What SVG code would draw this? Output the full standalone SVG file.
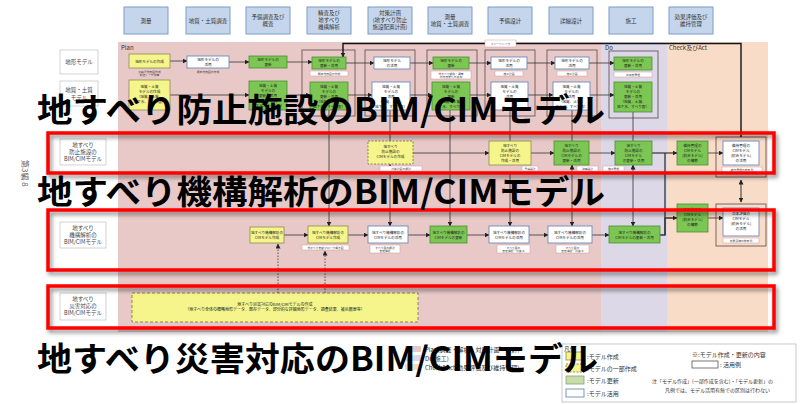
<svg xmlns="http://www.w3.org/2000/svg" width="805" height="404" viewBox="0 0 805 404">
<defs>
<marker id="ah" markerWidth="5" markerHeight="5" refX="4.5" refY="2.5" orient="auto" markerUnits="userSpaceOnUse"><path d="M0,0 L5,2.5 L0,5 z" fill="#222"/></marker>
<marker id="ahs" markerWidth="5" markerHeight="5" refX="0.5" refY="2.5" orient="auto" markerUnits="userSpaceOnUse"><path d="M5,0 L0,2.5 L5,5 z" fill="#222"/></marker>
<filter id="sh" x="-5%" y="-20%" width="110%" height="150%"><feDropShadow dx="2" dy="3" stdDeviation="2" flood-color="#000" flood-opacity="0.45"/></filter>
</defs>
<style>
text{font-family:"Noto Sans CJK JP","Noto Sans",sans-serif;}
.hdr rect{fill:#c5d6ec;stroke:#7d9cc6;stroke-width:1}
.hdr text{font-size:5.5px;fill:#333;text-anchor:middle}
.lab rect{fill:#fff;stroke:#c8c8c8;stroke-width:0.8}
.lab text{font-size:5.5px;fill:#444;text-anchor:middle}
.y{fill:#f6f58c;stroke:#8c8c52;stroke-width:0.8}
.yd{fill:#f6f58c;stroke:#6e6e48;stroke-width:0.8;stroke-dasharray:2 1.5}
.g{fill:#7cc653;stroke:#4e8c38;stroke-width:0.8}
.w{fill:#fff;stroke:#6a8cba;stroke-width:0.9}
.n text{font-size:3.6px;fill:#222;text-anchor:middle}
.sub rect{fill:#fff;stroke:#d49a9a;stroke-width:0.5}
.sub text{font-size:2.8px;fill:#444;text-anchor:middle}
.fr{fill:none;stroke:#6b5858;stroke-width:0.9}
.c line,.c path{stroke:#333;stroke-width:0.8;fill:none}
.big{font-size:33px;font-weight:bold;fill:#000}
.red{fill:none;stroke:#ff0000;stroke-width:3.5}
.lg text{font-size:6px;fill:#333}
</style>

<!-- regions -->
<rect x="118" y="42" width="483" height="290" fill="#e8c9c8"/>
<rect x="601" y="42" width="66" height="290" fill="#dcd8e8"/>
<rect x="667" y="42" width="101" height="290" fill="#f9dcc8"/>
<text x="121" y="49.5" font-size="6" fill="#333">Plan</text>
<text x="605" y="49.5" font-size="6" fill="#333">Do</text>
<text x="669" y="49.5" font-size="6" fill="#333">Check及びAct</text>

<text transform="translate(22,160) rotate(90)" font-size="8" fill="#666">第3編 8</text>

<!-- header -->
<g class="hdr" id="h1"><rect x="124" y="7" width="44" height="27"/><text x="146" y="22.5">測量</text></g>
<g class="hdr" id="h2"><rect x="186" y="7" width="44" height="27"/><text x="208" y="22.5">地質・土質調査</text></g>
<g class="hdr" id="h3"><rect x="246" y="7" width="44" height="27"/><text x="268" y="19">予備調査及び</text><text x="268" y="26">概査</text></g>
<g class="hdr" id="h4"><rect x="307" y="7" width="44" height="27"/><text x="329" y="15">精査及び</text><text x="329" y="22">地すべり</text><text x="329" y="29">機構解析</text></g>
<g class="hdr" id="h5"><rect x="368" y="7" width="44" height="27"/><text x="390" y="15">対策計画</text><text x="390" y="22">(地すべり防止</text><text x="390" y="29">施設配置計画)</text></g>
<g class="hdr" id="h6"><rect x="428" y="7" width="44" height="27"/><text x="450" y="19">測量</text><text x="450" y="26">地質・土質調査</text></g>
<g class="hdr" id="h7"><rect x="488" y="7" width="44" height="27"/><text x="510" y="22.5">予備設計</text></g>
<g class="hdr" id="h8"><rect x="549" y="7" width="44" height="27"/><text x="571" y="22.5">詳細設計</text></g>
<g class="hdr" id="h9"><rect x="609" y="7" width="44" height="27"/><text x="631" y="22.5">施工</text></g>
<g class="hdr" id="h10"><rect x="669" y="7" width="44" height="27"/><text x="691" y="19">効果評価及び</text><text x="691" y="26">維持管理</text></g>

<!-- column frames -->
<rect class="fr" x="302" y="50" width="53" height="66"/>
<rect class="fr" x="365" y="50" width="50" height="66"/>
<rect class="fr" x="427" y="50" width="50" height="66"/>
<rect class="fr" x="485" y="50" width="50" height="66"/>
<rect class="fr" x="547" y="50" width="50" height="66"/>
<rect class="fr" x="609" y="51" width="49" height="67"/>
<rect class="fr" x="716" y="137" width="50" height="40"/>
<rect class="fr" x="716" y="204" width="50" height="42"/>

<!-- connectors -->
<g class="c" id="connectors">
<line x1="170" y1="61" x2="187" y2="61" marker-end="url(#ah)"/>
<line x1="229" y1="62" x2="249" y2="62" marker-end="url(#ah)"/>
<line x1="287" y1="62" x2="312" y2="62" marker-end="url(#ah)"/>
<line x1="346" y1="63" x2="374" y2="63" marker-end="url(#ah)"/>
<line x1="410" y1="63" x2="433" y2="63" marker-end="url(#ah)"/>
<line x1="469" y1="63" x2="491" y2="63" marker-end="url(#ah)"/>
<line x1="527" y1="63" x2="555" y2="63" marker-end="url(#ah)"/>
<line x1="589" y1="63" x2="614" y2="63" marker-end="url(#ah)"/>
<line x1="170" y1="95" x2="249" y2="95" marker-end="url(#ah)"/>
<line x1="287" y1="95" x2="310" y2="95" marker-end="url(#ah)"/>
<line x1="348" y1="95" x2="372" y2="95" marker-end="url(#ah)"/>
<line x1="410" y1="95" x2="432" y2="95" marker-end="url(#ah)"/>
<line x1="470" y1="95" x2="491" y2="95" marker-end="url(#ah)"/>
<line x1="528" y1="95" x2="553" y2="95" marker-end="url(#ah)"/>
<line x1="590" y1="95" x2="614" y2="95" marker-end="url(#ah)"/>
<!-- verticals row2 to row4 -->
<line x1="329" y1="110" x2="329" y2="226" marker-end="url(#ah)"/>
<line x1="390" y1="110" x2="390" y2="141"/>
<line x1="390" y1="172" x2="390" y2="226" marker-end="url(#ah)"/>
<line x1="450" y1="110" x2="450" y2="226" marker-end="url(#ah)"/>
<line x1="510" y1="110" x2="510" y2="141"/>
<line x1="510" y1="172" x2="510" y2="226" marker-end="url(#ah)"/>
<line x1="572" y1="110" x2="572" y2="141"/>
<line x1="572" y1="172" x2="572" y2="226" marker-end="url(#ah)"/>
<line x1="633" y1="112" x2="633" y2="141"/>
<line x1="633" y1="172" x2="633" y2="226" marker-end="url(#ah)"/>
<line x1="390" y1="171" x2="390" y2="164.5" marker-end="url(#ah)"/>
<line x1="572" y1="171" x2="572" y2="165" marker-end="url(#ah)"/>
<line x1="633" y1="171" x2="633" y2="165" marker-end="url(#ah)"/>
<!-- row3 -->
<line x1="413" y1="153" x2="489" y2="153" marker-end="url(#ah)"/>
<line x1="531" y1="153" x2="554" y2="153" marker-end="url(#ah)"/>
<line x1="589" y1="153" x2="615" y2="153" marker-end="url(#ah)"/>
<line x1="652" y1="153" x2="677" y2="153" marker-end="url(#ah)" style="stroke-width:1.2"/>
<line x1="708" y1="153" x2="723" y2="153" marker-end="url(#ah)"/>
<!-- row4 -->
<line x1="284" y1="235" x2="308" y2="235" marker-end="url(#ah)"/>
<line x1="348" y1="235" x2="368" y2="235" marker-end="url(#ah)"/>
<line x1="408" y1="235" x2="430" y2="235" marker-end="url(#ah)"/>
<line x1="467" y1="235" x2="489" y2="235" marker-end="url(#ah)"/>
<line x1="529" y1="235" x2="548" y2="235" marker-end="url(#ah)"/>
<line x1="592" y1="235" x2="609" y2="235" marker-end="url(#ah)"/>
<path d="M660,235 H665 V218 H677" marker-end="url(#ah)" style="stroke-width:1.3"/>
<line x1="665" y1="153" x2="665" y2="235" style="stroke-width:1.3"/>
<line x1="708" y1="218" x2="723" y2="218" marker-end="url(#ah)"/>
<line x1="741" y1="180" x2="741" y2="202" marker-start="url(#ahs)" marker-end="url(#ah)" style="stroke-width:1"/>
<!-- dotted to row5 -->
<line x1="278" y1="293" x2="278" y2="244" marker-end="url(#ah)" style="stroke-dasharray:1.5 1.5"/>
<line x1="325" y1="293" x2="325" y2="251" marker-end="url(#ah)" style="stroke-dasharray:1.5 1.5"/>
<!-- feedback -->
<path d="M741,137 V43.5 H343 V57" marker-end="url(#ah)" style="stroke-width:1.4;stroke:#111"/>
</g>
<g class="sub"><rect x="485" y="40" width="31" height="7"/><text x="500.5" y="44.8">フィードバック</text></g>

<!-- row1 nodes -->
<g class="n" id="n1a"><rect class="y" x="129" y="54" width="41" height="14"/><text x="149.5" y="62.5">地形モデルの作成</text></g>
<g class="n" id="n1b"><rect class="w" x="187" y="56" width="42" height="12"/><text x="208" y="61">地形モデルの</text><text x="208" y="65.5">活用</text></g>
<g class="n" id="n1c"><rect class="g" x="249" y="56" width="38" height="12"/><text x="268" y="61">地形モデルの</text><text x="268" y="65.5">更新</text></g>
<g class="n" id="n1d"><rect class="g" x="312" y="57" width="34" height="12"/><text x="329" y="62">地形モデルの</text><text x="329" y="66.5">更新・活用</text></g>
<g class="n" id="n1e"><rect class="w" x="374" y="57" width="36" height="12"/><text x="392" y="62">地形モデル</text><text x="392" y="66.5">の活用</text></g>
<g class="n" id="n1f"><rect class="g" x="433" y="57" width="36" height="12"/><text x="451" y="62">地形モデルの</text><text x="451" y="66.5">更新</text></g>
<g class="n" id="n1g"><rect class="w" x="491" y="57" width="36" height="12"/><text x="509" y="62">地形モデルの</text><text x="509" y="66.5">活用</text></g>
<g class="n" id="n1h"><rect class="w" x="555" y="57" width="34" height="12"/><text x="572" y="62">地形モデルの</text><text x="572" y="66.5">活用</text></g>
<g class="n" id="n1i"><rect class="g" x="614" y="57" width="38" height="13"/><text x="633" y="62">地形モデルの</text><text x="633" y="67">更新・活用</text></g>
<g class="sub">
<text x="149.5" y="72.5">大縮尺地形図作成</text><text x="149.5" y="76">航空レーザ測量</text>
<text x="208" y="72.5">既存地形図の作成</text>
<rect x="310" y="71" width="38" height="5"/><text x="329" y="74.5">既存地形図の作成</text>
<rect x="431" y="71" width="40" height="8"/><text x="451" y="74.5">地すべり観測・調査</text><text x="451" y="77.8">の地形変化の追加</text>
<rect x="495" y="71" width="28" height="5"/><text x="509" y="74.5">施工計画</text>
<rect x="557" y="71" width="30" height="5"/><text x="572" y="74.5">施工計画</text>
<rect x="614" y="72" width="38" height="5"/><text x="633" y="75.5">出来形管理</text>
</g>

<!-- row2 nodes -->
<g class="n" id="n2a"><rect class="y" x="129" y="80" width="41" height="30"/><text x="149.5" y="88">地質・土質</text><text x="149.5" y="93">モデルの作成</text><text x="149.5" y="98">（地質、土質、</text><text x="149.5" y="103">地下水、すべり面）</text></g>
<g class="n" id="n2b"><rect class="g" x="249" y="81" width="38" height="29"/><text x="268" y="87">地質・土質</text><text x="268" y="92">モデルの</text><text x="268" y="97">更新・活用</text><text x="268" y="102">（地質、土質、</text><text x="268" y="107">地下水、すべり面）</text></g>
<g class="n" id="n2c"><rect class="g" x="310" y="82" width="38" height="28"/><text x="329" y="88">地質・土質</text><text x="329" y="93">モデルの</text><text x="329" y="98">更新・活用</text><text x="329" y="103">（地質、土質、</text><text x="329" y="108">地下水、すべり面）</text></g>
<g class="n" id="n2d"><rect class="w" x="372" y="82" width="38" height="28"/><text x="391" y="88">地質・土質</text><text x="391" y="93">モデルの</text><text x="391" y="98">活用</text><text x="391" y="103">（地質、土質、</text><text x="391" y="108">地下水、すべり面）</text></g>
<g class="n" id="n2e"><rect class="g" x="432" y="82" width="38" height="28"/><text x="451" y="88">地質・土質</text><text x="451" y="93">モデルの</text><text x="451" y="98">更新</text><text x="451" y="103">（地質、土質、</text><text x="451" y="108">地下水、すべり面）</text></g>
<g class="n" id="n2f"><rect class="w" x="491" y="82" width="37" height="28"/><text x="509.5" y="88">地質・土質</text><text x="509.5" y="93">モデルの</text><text x="509.5" y="98">活用</text></g>
<g class="n" id="n2g"><rect class="w" x="553" y="82" width="37" height="28"/><text x="571.5" y="88">地質・土質</text><text x="571.5" y="93">モデルの</text><text x="571.5" y="98">活用</text><text x="571.5" y="103">（地質、土質、</text><text x="571.5" y="108">地下水、すべり面）</text></g>
<g class="n" id="n2h"><rect class="g" x="614" y="82" width="38" height="30"/><text x="633" y="88">地質・土質</text><text x="633" y="93">モデルの</text><text x="633" y="98">更新・活用</text><text x="633" y="103">（地質、土質、</text><text x="633" y="108">地下水、すべり面）</text></g>

<!-- row3 nodes -->
<g class="n" id="n3a"><rect class="yd" x="368" y="141" width="45" height="23"/><text x="390.5" y="148">地すべり</text><text x="390.5" y="153">防止施設の</text><text x="390.5" y="158">CIMモデルの作成</text></g>
<g class="n" id="n3b"><rect class="y" x="489" y="141" width="42" height="24"/><text x="510" y="147">地すべり</text><text x="510" y="152">防止施設の</text><text x="510" y="157">CIMモデルの</text><text x="510" y="162">作成・活用</text></g>
<g class="n" id="n3c"><rect class="g" x="554" y="141" width="35" height="24"/><text x="571.5" y="147">地すべり</text><text x="571.5" y="152">防止施設の</text><text x="571.5" y="157">CIMモデルの</text><text x="571.5" y="162">更新・活用</text></g>
<g class="n" id="n3d"><rect class="g" x="615" y="141" width="37" height="24"/><text x="633.5" y="147">地すべり</text><text x="633.5" y="152">防止施設の</text><text x="633.5" y="157">CIMモデル</text><text x="633.5" y="162">の更新・活用</text></g>
<g class="n" id="n3e"><rect class="g" x="677" y="141" width="31" height="24"/><text x="692.5" y="147">維持管理の</text><text x="692.5" y="152">CIMモデル</text><text x="692.5" y="157">(統合モデル)</text><text x="692.5" y="162">の構築</text></g>
<g class="n" id="n3f"><rect class="w" x="723" y="141" width="36" height="24"/><text x="741" y="147">維持管理の</text><text x="741" y="152">CIMモデル</text><text x="741" y="157">(統合モデル)</text><text x="741" y="162">の活用</text></g>
<g class="sub">
<rect x="380" y="166" width="42" height="5"/><text x="401" y="169.5">対策計画の検討</text>
<rect x="522" y="166" width="16" height="5"/><text x="530" y="169.5">予備設計</text>
<rect x="577" y="166" width="21" height="5"/><text x="587.5" y="169.5">詳細設計</text>
<rect x="603" y="166" width="21" height="5"/><text x="613.5" y="169.5">施工管理</text>
<rect x="722" y="167" width="40" height="8"/><text x="742" y="170.5">維持管理の参考例</text><text x="742" y="173.8">(点検・観測データの蓄積)</text>
</g>

<!-- row4 nodes -->
<g class="n" id="n4a"><rect class="y" x="250" y="227" width="34" height="16"/><text x="267" y="234">地すべり機構解析の</text><text x="267" y="239">CIMモデル作成</text></g>
<g class="n" id="n4b"><rect class="y" x="308" y="226" width="40" height="17"/><text x="328" y="233.5">地すべり機構解析の</text><text x="328" y="238.5">CIMモデル作成</text></g>
<g class="n" id="n4c"><rect class="w" x="368" y="226" width="40" height="17"/><text x="388" y="233.5">地すべり機構解析の</text><text x="388" y="238.5">CIMモデルの活用</text></g>
<g class="n" id="n4d"><rect class="g" x="430" y="226" width="37" height="17"/><text x="448.5" y="233.5">地すべり機構解析の</text><text x="448.5" y="238.5">CIMモデルの更新</text></g>
<g class="n" id="n4e"><rect class="w" x="489" y="226" width="40" height="17"/><text x="509" y="233.5">地すべり機構解析の</text><text x="509" y="238.5">CIMモデルの活用</text></g>
<g class="n" id="n4f"><rect class="w" x="548" y="226" width="44" height="17"/><text x="570" y="233.5">地すべり機構解析の</text><text x="570" y="238.5">CIMモデルの活用</text></g>
<g class="n" id="n4g"><rect class="g" x="609" y="226" width="51" height="17"/><text x="634.5" y="233.5">地すべり機構解析の</text><text x="634.5" y="238.5">CIMモデルの更新・活用</text></g>
<g class="n" id="n4h"><rect class="g" x="677" y="204" width="31" height="28"/><text x="692.5" y="211">効果評価の</text><text x="692.5" y="216">CIMモデル</text><text x="692.5" y="221">(統合モデル)</text><text x="692.5" y="226">の構築</text></g>
<g class="n" id="n4i"><rect class="w" x="723" y="208" width="36" height="28"/><text x="741" y="215">効果評価の</text><text x="741" y="220">CIMモデル</text><text x="741" y="225">(統合モデル)</text><text x="741" y="230">の活用</text></g>
<g class="sub">
<rect x="302" y="245" width="47" height="5"/><text x="325.5" y="248.5">地すべり変動ブロック概念図</text>
<rect x="370" y="245" width="30" height="8"/><text x="385" y="248.5">すべり面の検討</text><text x="385" y="251.8">安定解析</text>
<rect x="497" y="245" width="33" height="8"/><text x="513.5" y="248.5">すべり面の</text><text x="513.5" y="251.8">安定解析・対策工</text>
<rect x="556" y="245" width="33" height="8"/><text x="572.5" y="248.5">すべり面の</text><text x="572.5" y="251.8">安定解析・対策工</text>
<rect x="723" y="238" width="36" height="5"/><text x="741" y="241.5">効果評価の参考例</text>
</g>

<!-- row5 -->
<g class="n" id="n5"><rect class="yd" x="132" y="293" width="286" height="29" style="stroke-dasharray:3 2"/>
<text x="275" y="305.5" style="font-size:4px">地すべり災害対応のBIM/CIMモデルの作成</text>
<text x="275" y="311" style="font-size:4px">（地すべり全体の概略地形データ、既存データ、部分的な詳細地形データ、調査結果、被災履歴等）</text></g>

<!-- row labels -->
<g class="lab" id="l1"><rect x="60" y="50" width="38" height="24"/><text x="79" y="64">地形モデル</text></g>
<g class="lab" id="l2"><rect x="60" y="81" width="38" height="25"/><text x="79" y="92">地質・土質</text><text x="79" y="99.5">モデル</text></g>
<g class="lab" id="l3"><rect x="60" y="139" width="46" height="26"/><text x="83" y="147">地すべり</text><text x="83" y="154">防止施設の</text><text x="83" y="161">BIM/CIMモデル</text></g>
<g class="lab" id="l4"><rect x="60" y="222" width="46" height="26"/><text x="83" y="230">地すべり</text><text x="83" y="237">機構解析の</text><text x="83" y="244">BIM/CIMモデル</text></g>
<g class="lab" id="l5"><rect x="60" y="293" width="46" height="27"/><text x="83" y="301">地すべり</text><text x="83" y="308">災害対応の</text><text x="83" y="315">BIM/CIMモデル</text></g>

<!-- red highlight boxes -->
<g filter="url(#sh)">
<rect class="red" x="48" y="133" width="726" height="40"/>
<rect class="red" x="48" y="210" width="726" height="60"/>
<rect class="red" x="48" y="286" width="726" height="42"/>
</g>

<!-- legend -->
<g class="lg" id="legend">
<rect x="405" y="346" width="16" height="6" fill="#e8c9c8"/>
<rect x="405" y="355" width="16" height="6" fill="#dcd8e8"/>
<rect x="405" y="364" width="16" height="6" fill="#f9dcc8"/>
<text x="425" y="351.5">Plan(調査・解析・対策計画・設計)</text>
<text x="425" y="360.5">Do(施工)</text>
<text x="425" y="369.5">Check&amp;Act(効果評価及び維持管理)</text>
<rect x="562" y="344" width="234" height="58" fill="#fff" stroke="#bbb" stroke-width="0.8"/>
<text x="564" y="351">凡例</text>
<rect class="y" x="566" y="352" width="18" height="8"/>
<rect class="yd" x="566" y="364" width="18" height="8"/>
<rect x="566" y="376" width="18" height="8" fill="#c8dcaa" stroke="#8aa070" stroke-width="0.8"/>
<rect class="w" x="566" y="389" width="18" height="8"/>
<text x="587" y="359">:モデル作成</text>
<text x="587" y="371">:モデルの一部作成</text>
<text x="587" y="383">:モデル更新</text>
<text x="587" y="396">:モデル活用</text>
<text x="692" y="357">※:モデル作成・更新の内容</text>
<rect x="692" y="361" width="26" height="7" fill="#fff" stroke="#555" stroke-width="0.8"/>
<text x="720" y="367">: 活用例</text>
<text x="652" y="383" style="font-size:5px">注「モデル作成」(一部作成を含む)・「モデル更新」の</text>
<text x="665" y="392" style="font-size:5px">凡例では、モデル活用有無での区別は行わない</text>
</g>

<!-- big overlay text -->
<text class="big" x="37" y="122" textLength="568" lengthAdjust="spacingAndGlyphs">地すべり防止施設のBIM/CIMモデル</text>
<text class="big" x="37" y="204" textLength="568" lengthAdjust="spacingAndGlyphs">地すべり機構解析のBIM/CIMモデル</text>
<text class="big" x="37" y="371" textLength="561" lengthAdjust="spacingAndGlyphs">地すべり災害対応のBIM/CIMモデル</text>
</svg>
